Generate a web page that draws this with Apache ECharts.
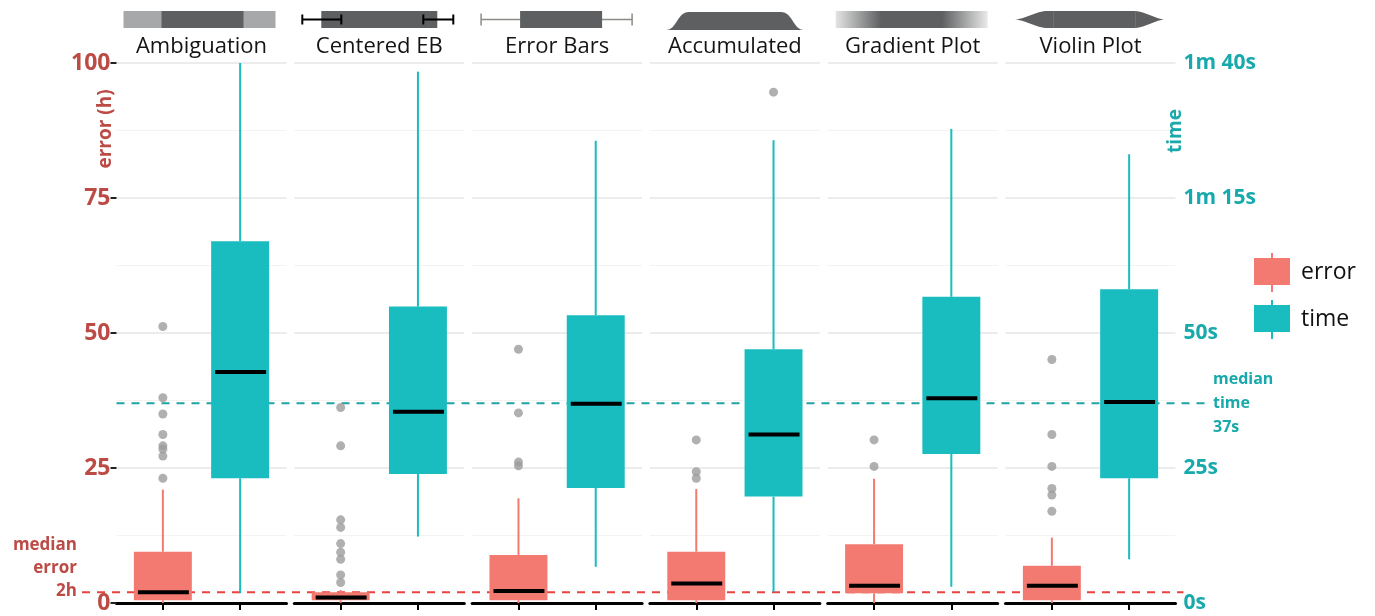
<!DOCTYPE html>
<html>
<head>
<meta charset="utf-8">
<script src="https://cdn.jsdelivr.net/npm/echarts@6/dist/echarts.min.js"></script>
<style>
  html, body { margin: 0; padding: 0; background: #ffffff; }
  #chart { width: 1375px; height: 616px; }
</style>
</head>
<body>
<div id="chart"></div>
<script>
// Facets, one per uncertainty visualisation
const panels = ['Ambiguation', 'Centered EB', 'Error Bars', 'Accumulated', 'Gradient Plot', 'Violin Plot'];

// Box statistics per facet: [lower whisker, Q1, median, Q3, upper whisker]
const errorBoxes = [
  [0, 0.5, 2.0, 9.5, 21.0],
  [0, 0.5, 1.0, 2.0, 2.4],
  [0, 0.5, 2.2, 8.9, 19.4],
  [0, 0.5, 3.6, 9.5, 21.1],
  [0, 1.8, 3.2, 10.9, 23.0],
  [0, 0.5, 3.2, 6.9, 12.1]
];
const timeBoxes = [
  [1.8, 23.1, 42.8, 67.0, 100],
  [12.3, 23.9, 35.4, 54.9, 98.4],
  [6.7, 21.3, 36.9, 53.3, 85.6],
  [2.0, 19.7, 31.2, 47.0, 85.7],
  [3.0, 27.6, 37.9, 56.7, 87.8],
  [8.1, 23.1, 37.2, 58.1, 83.1]
];

// Outlying observations per facet
const errorOutliers = [
  [51.2, 38.0, 35.0, 31.2, 29.1, 28.5, 27.2, 23.1],
  [36.2, 29.1, 15.4, 14.0, 11.0, 9.4, 8.1, 5.2, 3.8],
  [47.0, 35.2, 26.1, 25.4],
  [30.2, 24.3, 23.1],
  [30.2, 25.3],
  [45.1, 31.2, 25.3, 21.2, 20.0, 17.0]
];
const timeOutliers = [[], [], [], [94.6], [], []];

// Shared value scale (hours on the left, seconds on the right)
const yTicks = [0, 25, 50, 75, 100];
const errorTickLabels = ['0', '25', '50', '75', '100'];
const timeTickLabels = ['0s', '25s', '50s', '1m 15s', '1m 40s'];

// Overall medians
const medianError = 2;
const medianTime = 37;
const medianErrorLabel = 'median\nerror\n2h';
const medianTimeLabel = 'median\ntime\n37s';

// Palette
const ERROR_COLOR = '#F37A70';
const TIME_COLOR = '#19BCBF';
const ERR_TEXT = '#BC4A45';
const TIME_TEXT = '#17A9AB';
const ICON_DARK = '#5D5F60';
const FONT = '"Open Sans", "Noto Sans", sans-serif';

// Facet layout
const PANEL_LEFT = 116.5;
const PANEL_STEP = 177.8;
const PANEL_W = 170;
const GRID_TOP = 63;
const GRID_BOTTOM = 13;
const BOX_WIDTH = 0.75;

function boxRenderer(color) {
  return function (params, api) {
    const x = api.value(0);
    const lo = api.coord([x, api.value(1)]);
    const q1 = api.coord([x, api.value(2)]);
    const md = api.coord([x, api.value(3)]);
    const q3 = api.coord([x, api.value(4)]);
    const hi = api.coord([x, api.value(5)]);
    const half = api.size([BOX_WIDTH, 0])[0] / 2;
    const cx = q1[0];
    return {
      type: 'group',
      children: [
        { type: 'line', shape: { x1: cx, y1: lo[1], x2: cx, y2: q1[1] },
          style: { stroke: color, lineWidth: 2 } },
        { type: 'line', shape: { x1: cx, y1: q3[1], x2: cx, y2: hi[1] },
          style: { stroke: color, lineWidth: 2 } },
        { type: 'rect', shape: { x: cx - half, y: q3[1], width: half * 2, height: Math.max(q1[1] - q3[1], 1) },
          style: { fill: color } },
        { type: 'line', shape: { x1: cx - half + 4, y1: md[1], x2: cx + half - 3, y2: md[1] },
          style: { stroke: '#000000', lineWidth: 4 } }
      ]
    };
  };
}

const grids = [], xAxes = [], yAxes = [], series = [];
panels.forEach((name, i) => {
  grids.push({ left: PANEL_LEFT + PANEL_STEP * i, width: PANEL_W, top: GRID_TOP, bottom: GRID_BOTTOM });
  xAxes.push({
    type: 'value', gridIndex: i, min: 0.4, max: 2.6,
    axisLine: { show: true, onZero: false, lineStyle: { color: '#000000', width: 3 } },
    axisTick: { show: true, customValues: [1, 2], length: 7, lineStyle: { color: '#000000', width: 2 } },
    axisLabel: { show: false },
    splitLine: { show: false }
  });
  const isLeft = i === 0, isRight = i === panels.length - 1;
  yAxes.push({
    type: 'value', gridIndex: i, min: 0, max: 100, interval: 25,
    position: isRight ? 'right' : 'left',
    axisLine: { show: false },
    axisTick: { show: isLeft, length: 6, lineStyle: { color: '#222222', width: 2 } },
    axisLabel: {
      show: isLeft || isRight,
      margin: isLeft ? 6 : 8,
      color: isLeft ? ERR_TEXT : TIME_TEXT,
      fontFamily: FONT, fontWeight: 'bold', fontSize: isLeft ? 23 : 21,
      formatter: v => {
        const k = yTicks.indexOf(v);
        return isLeft ? errorTickLabels[k] : timeTickLabels[k];
      }
    },
    splitLine: { show: true, lineStyle: { color: '#E6E6E6', width: 1.5 } },
    minorTick: { show: false, splitNumber: 2 },
    minorSplitLine: { show: true, lineStyle: { color: '#F3F3F3', width: 1 } }
  });
  series.push({
    name: 'error', type: 'custom', xAxisIndex: i, yAxisIndex: i,
    itemStyle: { color: ERROR_COLOR },
    renderItem: boxRenderer(ERROR_COLOR),
    encode: { x: 0, y: [1, 2, 3, 4, 5] },
    data: [[1].concat(errorBoxes[i])], z: 3
  });
  series.push({
    name: 'time', type: 'custom', xAxisIndex: i, yAxisIndex: i,
    itemStyle: { color: TIME_COLOR },
    renderItem: boxRenderer(TIME_COLOR),
    encode: { x: 0, y: [1, 2, 3, 4, 5] },
    data: [[2].concat(timeBoxes[i])], z: 3
  });
  series.push({
    name: 'outliers', type: 'scatter', xAxisIndex: i, yAxisIndex: i,
    symbolSize: 9, itemStyle: { color: '#9C9C9C' }, z: 4,
    data: errorOutliers[i].map(v => [1, v]).concat(timeOutliers[i].map(v => [2, v]))
  });
});

const chart = echarts.init(document.getElementById('chart'), null, { renderer: 'canvas' });
chart.setOption({
  animation: false,
  backgroundColor: '#ffffff',
  grid: grids,
  xAxis: xAxes,
  yAxis: yAxes,
  legend: {
    data: ['error', 'time'],
    orient: 'vertical',
    left: 1249, top: 248,
    itemWidth: 36, itemHeight: 39, itemGap: 8,
    icon: 'path://M0,5H36V32H0Z M17,0H19V39H17Z',
    textStyle: { fontFamily: FONT, fontSize: 23, color: '#111111', padding: [0, 0, 0, 6] },
    selectedMode: false
  },
  series: series
});

// Reference lines, facet strips and annotations placed on the chart's own scales
const yErr = chart.convertToPixel({ yAxisIndex: 0 }, medianError);
const yTime = chart.convertToPixel({ yAxisIndex: 0 }, medianTime);
const centers = panels.map((_, i) => chart.convertToPixel({ xAxisIndex: i }, 1.5));
const plotLeft = chart.convertToPixel({ xAxisIndex: 0 }, 0.4);
const plotRight = chart.convertToPixel({ xAxisIndex: panels.length - 1 }, 2.6);

// Flatten a run of cubic Bézier segments into polygon points
function bezierPoints(start, segments) {
  const pts = [start];
  let p0 = start;
  segments.forEach(([c1, c2, p3]) => {
    for (let k = 1; k <= 16; k++) {
      const t = k / 16, u = 1 - t;
      pts.push([
        u * u * u * p0[0] + 3 * u * u * t * c1[0] + 3 * u * t * t * c2[0] + t * t * t * p3[0],
        u * u * u * p0[1] + 3 * u * u * t * c1[1] + 3 * u * t * t * c2[1] + t * t * t * p3[1]
      ]);
    }
    p0 = p3;
  });
  return pts;
}

function stripIcon(i, cx) {
  const y0 = 11, y1 = 28, ym = 19.5;
  const bar = (x1, yA, x2, yB, color, w) =>
    ({ type: 'line', shape: { x1: x1, y1: yA, x2: x2, y2: yB }, style: { stroke: color, lineWidth: w } });
  switch (i) {
    case 0: return [
      { type: 'rect', shape: { x: cx - 78, y: y0, width: 152, height: y1 - y0 }, style: { fill: '#A6A8A9' } },
      { type: 'rect', shape: { x: cx - 40, y: y0, width: 82, height: y1 - y0 }, style: { fill: ICON_DARK } }
    ];
    case 1: return [
      { type: 'rect', shape: { x: cx - 58, y: y0, width: 116, height: y1 - y0 }, style: { fill: ICON_DARK } },
      bar(cx - 77, ym, cx - 38, ym, '#000', 2),
      bar(cx - 77, ym - 5, cx - 77, ym + 5, '#000', 2),
      bar(cx - 38, ym - 5, cx - 38, ym + 5, '#000', 2),
      bar(cx + 44, ym, cx + 74, ym, '#000', 2),
      bar(cx + 44, ym - 5, cx + 44, ym + 5, '#000', 2),
      bar(cx + 74, ym - 5, cx + 74, ym + 5, '#000', 2)
    ];
    case 2: return [
      bar(cx - 76, ym, cx + 75, ym, '#8C8A86', 1.5),
      bar(cx - 76, ym - 6, cx - 76, ym + 6, '#8C8A86', 1.5),
      bar(cx + 75, ym - 6, cx + 75, ym + 6, '#8C8A86', 1.5),
      { type: 'rect', shape: { x: cx - 37, y: y0, width: 82, height: y1 - y0 }, style: { fill: ICON_DARK } }
    ];
    case 3: {
      const left = bezierPoints([cx - 69, 30], [[[cx - 58, 30], [cx - 58, 12], [cx - 46, 12]]]);
      const right = bezierPoints([cx + 46, 12], [[[cx + 58, 12], [cx + 58, 30], [cx + 69, 30]]]);
      return [{ type: 'polygon', shape: { points: left.concat(right) }, style: { fill: ICON_DARK } }];
    }
    case 4: return [
      { type: 'rect', shape: { x: cx - 77, y: y0, width: 152, height: y1 - y0 }, style: { fill: {
        type: 'linear', x: 0, y: 0, x2: 1, y2: 0,
        colorStops: [
          { offset: 0, color: '#E4E4E4' }, { offset: 0.3, color: ICON_DARK },
          { offset: 0.7, color: ICON_DARK }, { offset: 1, color: '#EAEAEA' }
        ] } } }
    ];
    default: {
      const top = bezierPoints([cx - 78, ym], [
        [[cx - 64, ym], [cx - 56, y0], [cx - 42, y0]],
        [[cx - 10, y0], [cx + 10, y0], [cx + 42, y0]],
        [[cx + 56, y0], [cx + 64, ym], [cx + 76, ym]]
      ]);
      const bottom = bezierPoints([cx + 76, ym], [
        [[cx + 64, ym], [cx + 56, y1], [cx + 42, y1]],
        [[cx + 10, y1], [cx - 10, y1], [cx - 42, y1]],
        [[cx - 56, y1], [cx - 64, ym], [cx - 78, ym]]
      ]);
      return [
        { type: 'polygon', shape: { points: top.concat(bottom.slice(1)) }, style: { fill: ICON_DARK } },
        bar(cx - 37, y0, cx - 37, y1, '#6E7071', 1),
        bar(cx + 45, y0, cx + 45, y1, '#6E7071', 1)
      ];
    }
  }
}

const elements = [];
// Overall median reference lines
elements.push({
  type: 'line', z: 1,
  shape: { x1: 82, y1: yErr, x2: plotRight + 8, y2: yErr },
  style: { stroke: '#E8433F', lineWidth: 2, lineDash: [8, 7] }
});
elements.push({
  type: 'line', z: 1,
  shape: { x1: plotLeft, y1: yTime, x2: 1207, y2: yTime },
  style: { stroke: '#1FA4A6', lineWidth: 2, lineDash: [8, 7] }
});
elements.push({
  type: 'text', z: 5, x: 77, y: yErr + 10,
  style: { text: medianErrorLabel, fill: ERR_TEXT, font: `bold 17px ${FONT}`,
    align: 'right', verticalAlign: 'bottom', lineHeight: 23 }
});
elements.push({
  type: 'text', z: 5, x: 1213, y: yTime,
  style: { text: medianTimeLabel, fill: TIME_TEXT, font: `bold 16px ${FONT}`,
    align: 'left', verticalAlign: 'middle', lineHeight: 24 }
});
// Axis titles
elements.push({
  type: 'text', z: 5, x: 106, y: 129, rotation: Math.PI / 2,
  style: { text: 'error (h)', fill: ERR_TEXT, font: `bold 19px ${FONT}`, align: 'center', verticalAlign: 'middle' }
});
elements.push({
  type: 'text', z: 5, x: 1176, y: 131, rotation: Math.PI / 2,
  style: { text: 'time', fill: TIME_TEXT, font: `bold 19px ${FONT}`, align: 'center', verticalAlign: 'middle' }
});
// Facet strips: glyph and title
panels.forEach((name, i) => {
  const cx = centers[i];
  stripIcon(i, cx).forEach(el => { el.z = 5; elements.push(el); });
  elements.push({
    type: 'text', z: 5, x: cx, y: 47,
    style: { text: name, fill: '#141414', font: `22px ${FONT}`, align: 'center', verticalAlign: 'middle' }
  });
});

chart.setOption({ graphic: { elements: elements } });
</script>
</body>
</html>
